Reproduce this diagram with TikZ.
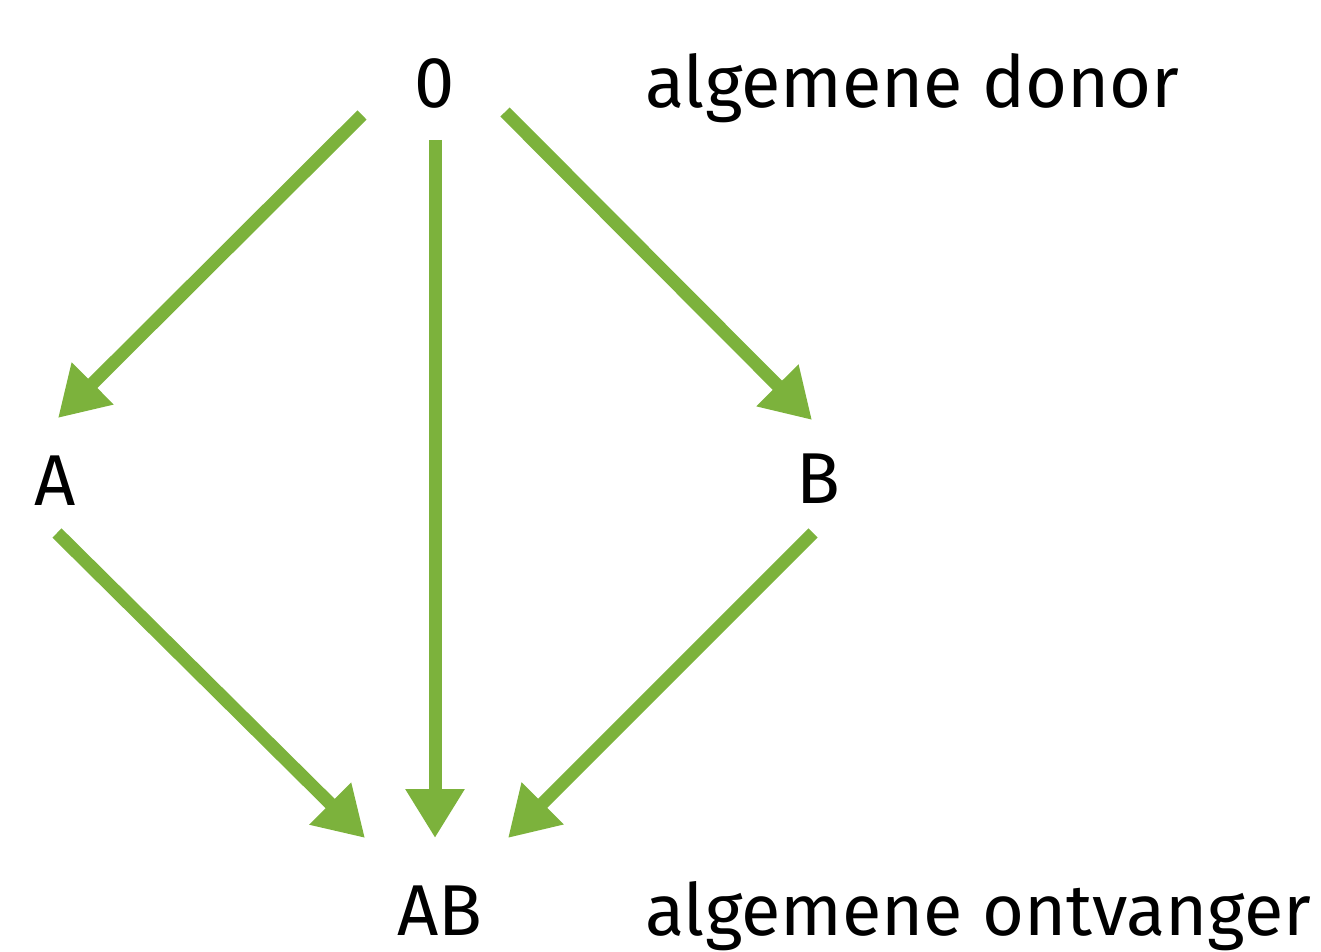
\documentclass[tikz,border=0pt]{standalone}
\usepackage{fontspec}
\setmainfont{Fira Sans}
\usepackage{tikz}
\usetikzlibrary{arrows.meta}
\definecolor{arrgreen}{RGB}{124,178,60}

\begin{document}
\begin{tikzpicture}[
  x=0.02cm, y=-0.02cm,
  lbl/.style={inner sep=0pt, anchor=base, font=\fontsize{41}{45}\selectfont},
  txt/.style={inner sep=0pt, anchor=base west, font=\fontsize{41}{45}\selectfont},
  arr/.style={-{Triangle[length=0.98cm, width=1.12cm]}, draw=arrgreen, line width=0.26cm},
]
\useasboundingbox (0,0) rectangle (1321,952);
\node[lbl] (O) at (435,108) {0};
\node[lbl] (A) at (55,505) {A};
\node[lbl] (B) at (818,503) {B};
\node[lbl] (AB) at (440,935) {AB};
\node[txt] (donor) at (645,108) {algemene donor};
\node[txt] (ontv) at (645,935) {algemene ontvanger};
\draw[arr] ([shift={(-73,7)}]O.base) -- ([shift={(3,-87)}]A.base);
\draw[arr] ([shift={(0,32)}]O.base) -- ([shift={(-5,-97)}]AB.base);
\draw[arr] ([shift={(70,4)}]O.base) -- ([shift={(-6,-83)}]B.base);
\draw[arr] ([shift={(2,28)}]A.base) -- ([shift={(-75,-97)}]AB.base);
\draw[arr] ([shift={(-5,30)}]B.base) -- ([shift={(68,-97)}]AB.base);
\end{tikzpicture}
\end{document}
